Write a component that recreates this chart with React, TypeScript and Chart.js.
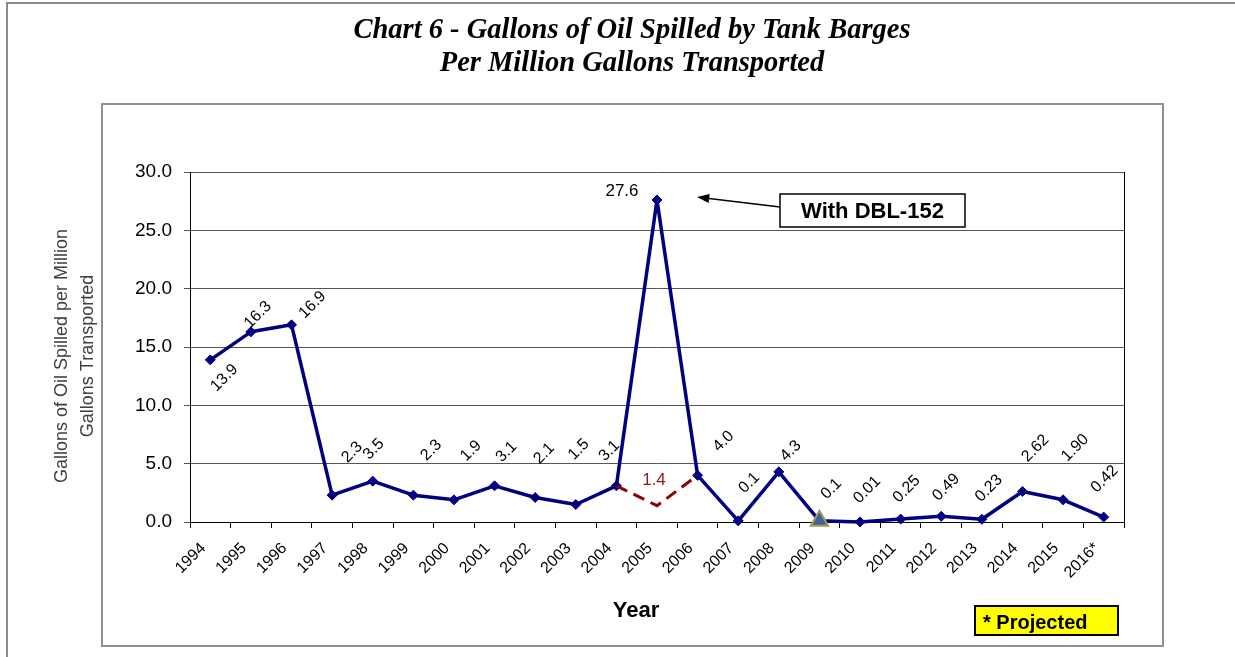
import React, { useEffect, useRef } from "react";
import { Chart, registerables } from "chart.js";

Chart.register(...registerables);

const years = ["1994","1995","1996","1997","1998","1999","2000","2001","2002","2003","2004","2005","2006","2007","2008","2009","2010","2011","2012","2013","2014","2015","2016*"];
const spilled = [13.9,16.3,16.9,2.3,3.5,2.3,1.9,3.1,2.1,1.5,3.1,27.6,4.0,0.1,4.3,0.1,0.01,0.25,0.49,0.23,2.62,1.90,0.42];
const spilledLabels = ["13.9","16.3","16.9","2.3","3.5","2.3","1.9","3.1","2.1","1.5","3.1","27.6","4.0","0.1","4.3","0.1","0.01","0.25","0.49","0.23","2.62","1.90","0.42"];
const withoutDBL = [null,null,null,null,null,null,null,null,null,null,3.1,1.4,4.0,null,null,null,null,null,null,null,null,null,null];
const withoutLabel = "1.4";
const yTicks = [0,5,10,15,20,25,30];

// label placement (pixel offsets of label centre from point), rotated unless flagged
const labelOffsets: [number, number, boolean][] = [
  [14,18,true],[7,-17,true],[21,-20,true],[20,-43,true],[1,-32,true],[18,-45,true],[17,-49,true],
  [12,-34,true],[9,-44,true],[3,-55,true],[-7,-35,true],[-35,-9,false],[26,-34,true],[11,-38,true],
  [12,-21,true],[12,-32,true],[7,-32,true],[6,-30,true],[5,-29,true],[7,-31,true],[13,-43,true],
  [12,-52,true],[1,-38,true]
];

const SANS = "'Liberation Sans', Arial, sans-serif";
const SERIF = "'Liberation Serif', 'Times New Roman', serif";

const decorPlugin = {
  id: "decor",
  afterDraw(chart: any) {
    const ctx = chart.ctx;
    const ca = chart.chartArea;
    ctx.save();
    // outer frame
    ctx.strokeStyle = "#8a8a8a";
    ctx.lineWidth = 2;
    ctx.beginPath();
    ctx.moveTo(7, 657);
    ctx.lineTo(7, 3);
    ctx.lineTo(1235, 3);
    ctx.stroke();
    // inner frame
    ctx.strokeStyle = "#8f8f8f";
    ctx.lineWidth = 2;
    ctx.strokeRect(102, 104, 1061, 542);
    // plot right border
    ctx.strokeStyle = "#000";
    ctx.lineWidth = 1;
    ctx.beginPath();
    ctx.moveTo(ca.right + 0.5, ca.top);
    ctx.lineTo(ca.right + 0.5, ca.bottom);
    ctx.stroke();

    // title
    ctx.fillStyle = "#000";
    ctx.font = `bold italic 28.5px ${SERIF}`;
    ctx.textAlign = "center";
    ctx.textBaseline = "alphabetic";
    ctx.fillText("Chart 6 - Gallons of Oil Spilled by Tank Barges", 632, 38);
    ctx.fillText("Per Million Gallons Transported", 632, 71);

    // y title
    ctx.save();
    ctx.translate(62, 356);
    ctx.rotate(-Math.PI / 2);
    ctx.fillStyle = "#404040";
    ctx.font = `18px ${SANS}`;
    ctx.textBaseline = "middle";
    ctx.fillText("Gallons of Oil Spilled per Million", 0, 0);
    ctx.fillText("Gallons Transported", 0, 26);
    ctx.restore();

    // x title
    ctx.fillStyle = "#000";
    ctx.font = `bold 22px ${SANS}`;
    ctx.textAlign = "center";
    ctx.textBaseline = "middle";
    ctx.fillText("Year", 636, 611);

    // data labels
    const meta = chart.getDatasetMeta(0);
    ctx.fillStyle = "#000";
    meta.data.forEach((pt: any, i: number) => {
      const [dx, dy, rot] = labelOffsets[i];
      ctx.save();
      ctx.translate(pt.x + dx, pt.y + dy);
      ctx.font = rot ? `16px ${SANS}` : `17px ${SANS}`;
      if (rot) ctx.rotate(-Math.PI / 4);
      ctx.textAlign = "center";
      ctx.textBaseline = "middle";
      ctx.fillText(spilledLabels[i], 0, 0);
      ctx.restore();
    });
    const meta2 = chart.getDatasetMeta(1);
    const p2 = meta2.data[11];
    ctx.fillStyle = "#8b1a1a";
    ctx.font = `17px ${SANS}`;
    ctx.textAlign = "center";
    ctx.textBaseline = "middle";
    ctx.fillText(withoutLabel, p2.x - 3, p2.y - 25);

    // annotation box
    const bx = 780, by = 194, bw = 185, bh = 33;
    ctx.fillStyle = "#fff";
    ctx.fillRect(bx, by, bw, bh);
    ctx.strokeStyle = "#000";
    ctx.lineWidth = 1.5;
    ctx.strokeRect(bx, by, bw, bh);
    ctx.fillStyle = "#000";
    ctx.font = `bold 22px ${SANS}`;
    ctx.fillText("With DBL-152", bx + bw / 2, by + bh / 2 + 1);
    // arrow
    const ax0 = bx, ay0 = 207, ax1 = 697, ay1 = 197;
    ctx.lineWidth = 1.5;
    ctx.beginPath();
    ctx.moveTo(ax0, ay0);
    ctx.lineTo(ax1 + 10, ay1 + 1.2);
    ctx.stroke();
    const ang = Math.atan2(ay1 - ay0, ax1 - ax0);
    ctx.beginPath();
    ctx.moveTo(ax1, ay1);
    ctx.lineTo(ax1 - 13 * Math.cos(ang - 0.35), ay1 - 13 * Math.sin(ang - 0.35));
    ctx.lineTo(ax1 - 13 * Math.cos(ang + 0.35), ay1 - 13 * Math.sin(ang + 0.35));
    ctx.closePath();
    ctx.fill();

    // projected box
    ctx.fillStyle = "#ffff00";
    ctx.fillRect(975, 606, 143, 29);
    ctx.strokeStyle = "#000";
    ctx.lineWidth = 2;
    ctx.strokeRect(975, 606, 143, 29);
    ctx.fillStyle = "#000";
    ctx.font = `bold 20px ${SANS}`;
    ctx.textAlign = "left";
    ctx.textBaseline = "alphabetic";
    ctx.fillText("* Projected", 983, 629);
    ctx.restore();
  },
};

export default function App() {
  const ref = useRef<HTMLCanvasElement>(null);
  useEffect(() => {
    if (!ref.current) return;
    const navy = "#000080";
    const chart = new Chart(ref.current, {
      type: "line",
      data: {
        labels: years,
        datasets: [
          {
            label: "Spilled",
            data: spilled,
            borderColor: navy,
            backgroundColor: navy,
            borderWidth: 3.5,
            borderJoinStyle: "round",
            clip: false,
            pointStyle: spilled.map((_, i) => (i === 15 ? "triangle" : "rectRot")) as any,
            pointRadius: spilled.map((_, i) => (i === 15 ? 10 : 5)),
            pointBackgroundColor: spilled.map((_, i) => (i === 15 ? "#3c6496" : navy)),
            pointBorderColor: spilled.map((_, i) => (i === 15 ? "#a39a52" : navy)),
            pointBorderWidth: spilled.map((_, i) => (i === 15 ? 2 : 1)),
            tension: 0,
            order: 2,
          },
          {
            label: "Without DBL-152",
            data: withoutDBL,
            borderColor: "#8b0000",
            borderWidth: 3,
            borderDash: [12, 7],
            pointRadius: 0,
            spanGaps: false,
            tension: 0,
            order: 1,
          },
        ],
      },
      options: {
        responsive: false,
        animation: false,
        events: [],
        layout: { padding: { top: 172, right: 111, left: 0, bottom: 0 } },
        plugins: { legend: { display: false }, title: { display: false }, tooltip: { enabled: false } },
        scales: {
          x: {
            type: "category",
            offset: true,
            grid: { offset: true, drawOnChartArea: false, drawTicks: true, tickLength: 6, color: "#000" },
            border: { color: "#000", width: 1 },
            ticks: {
              autoSkip: false,
              maxRotation: 45,
              minRotation: 45,
              padding: 11,
              labelOffset: -7,
              color: "#000",
              font: { family: SANS, size: 16 },
            },
            afterFit: (s: any) => { s.height = 135; },
          },
          y: {
            min: 0,
            max: 30,
            afterBuildTicks: (s: any) => { s.ticks = yTicks.map((v) => ({ value: v })); },
            ticks: {
              padding: 12,
              color: "#000",
              font: { family: SANS, size: 19 },
              callback: (v: any) => Number(v).toFixed(1),
            },
            grid: { color: "#555", tickLength: 6, lineWidth: 1 },
            border: { color: "#000", width: 1 },
            afterFit: (s: any) => { s.width = 190; },
          },
        },
      },
      plugins: [decorPlugin],
    });
    return () => chart.destroy();
  }, []);
  return (
    <div style={{ position: "fixed", left: 0, top: 0, width: 1235, height: 657, background: "#fff" }}>
      <canvas ref={ref} width={1235} height={657} style={{ display: "block", width: 1235, height: 657 }} />
    </div>
  );
}
